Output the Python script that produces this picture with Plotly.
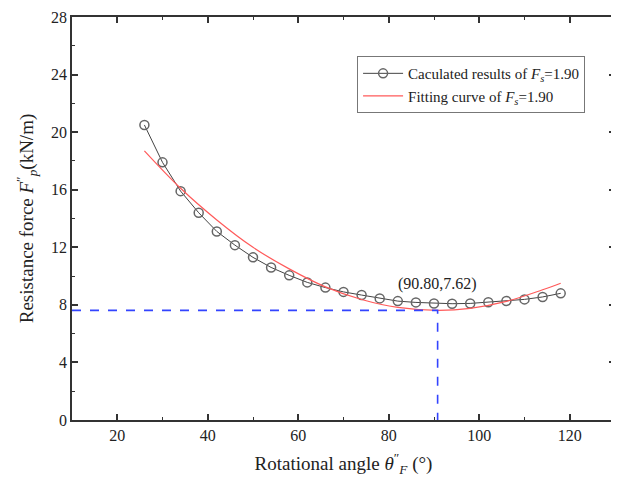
import plotly.graph_objects as go

# Calculated results
angles = [26, 30, 34, 38, 42, 46, 50, 54, 58, 62, 66, 70, 74, 78, 82, 86, 90, 94, 98, 102, 106, 110, 114, 118]
forces = [20.5, 17.9, 15.9, 14.4, 13.1, 12.15, 11.3, 10.6, 10.05, 9.56, 9.2, 8.9, 8.68, 8.45, 8.26, 8.17, 8.1, 8.08, 8.1, 8.18, 8.27, 8.38, 8.55, 8.8]

# Fitting curve
fit_angles = [26, 34, 42, 50, 58, 66, 74, 82, 90.8, 98, 106, 114, 118]
fit_forces = [18.7, 16.1, 13.9, 12.0, 10.5, 9.25, 8.37, 7.82, 7.62, 7.76, 8.24, 9.05, 9.5]

min_x = 90.80
min_y = 7.62

x_ticks = [20, 40, 60, 80, 100, 120]
y_ticks = [0, 4, 8, 12, 16, 20, 24, 28]

font = "Liberation Serif, Times New Roman, serif"

fig = go.Figure()
fig.add_trace(go.Scatter(
    x=angles, y=forces, mode="lines+markers",
    name="Caculated results of <i>F</i><sub><i>s</i></sub>=1.90",
    line=dict(color="#444444", width=1),
    marker=dict(symbol="circle-open", size=9, color="#666666", line=dict(width=1.5)),
))
fig.add_trace(go.Scatter(
    x=fit_angles, y=fit_forces, mode="lines",
    name="Fitting curve of <i>F</i><sub><i>s</i></sub>=1.90",
    line=dict(color="#ff5a5a", width=1.2, shape="spline"),
))

# dashed guide lines
fig.add_trace(go.Scatter(
    x=[10, min_x, min_x], y=[min_y, min_y, 0], mode="lines",
    line=dict(color="#3344ff", width=1.6, dash="dash"),
    showlegend=False, hoverinfo="skip",
))

fig.add_annotation(x=min_x, y=min_y, text="(90.80,7.62)", showarrow=False,
                   yshift=26, font=dict(family=font, size=16, color="#222222"))

axis_common = dict(
    showline=True, linecolor="#333333", linewidth=1.5, mirror="ticks",
    ticks="inside", ticklen=6, tickwidth=1.5, tickcolor="#333333",
    showgrid=False, zeroline=False, automargin=False,
    tickfont=dict(family=font, size=16, color="#222222"),
    minor=dict(ticks="inside", ticklen=3, tickwidth=1.2, tickcolor="#333333", showgrid=False),
)

fig.update_xaxes(range=[10, 130], tickvals=x_ticks,
                 minor_dtick=10, minor_tick0=10,
                 title=dict(text="Rotational angle <i>θ</i><sup>″</sup><sub><i>F</i></sub> (°)",
                            font=dict(family=font, size=19, color="#222222"), standoff=14),
                 **axis_common)
fig.update_yaxes(range=[0, 28], tickvals=y_ticks,
                 minor_dtick=2, minor_tick0=0,
                 title=dict(text="Resistance force <i>F</i><sup>″</sup><sub><i>p</i></sub>(kN/m)",
                            font=dict(family=font, size=19, color="#222222"), standoff=12),
                 **axis_common)

fig.update_layout(
    width=619, height=487,
    margin=dict(l=64, r=12, t=9, b=75, autoexpand=False),
    plot_bgcolor="white", paper_bgcolor="white",
    legend=dict(x=0.525, y=0.903, xanchor="left", yanchor="top",
                bordercolor="#777777", borderwidth=1, bgcolor="white",
                font=dict(family=font, size=15, color="#222222"),
                tracegroupgap=0, itemwidth=40),
)

fig.write_html("out.html")
